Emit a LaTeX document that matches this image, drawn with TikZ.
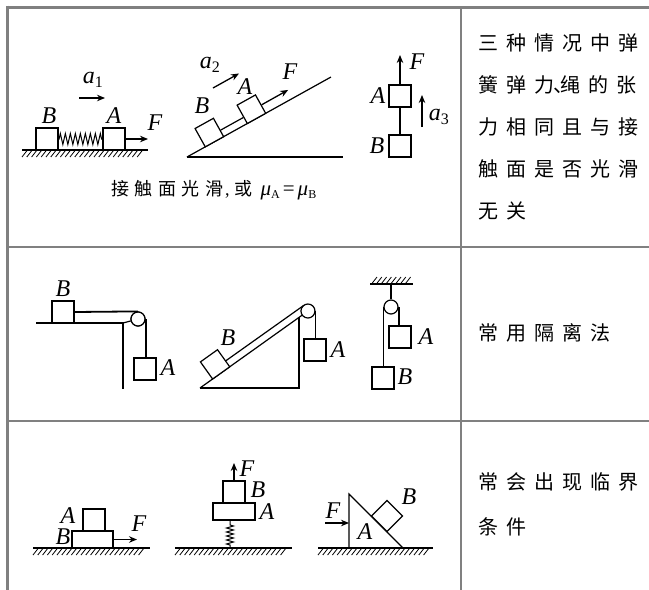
\documentclass[tikz,border=0pt]{standalone}
\usepackage{fontspec}
\setmainfont{Liberation Serif}
\newfontfamily\cjk{Noto Sans CJK SC}
\usetikzlibrary{arrows.meta,decorations.pathmorphing,calc}
\definecolor{rulegray}{RGB}{128,128,128}
\def\spr#1{\ifx#1\relax\else\makebox[28pt][l]{#1}\expandafter\spr\fi}
\def\cspr#1{\ifx#1\relax\else\makebox[23.5pt][l]{#1}\expandafter\cspr\fi}
\newcommand\hatchbelow[3]{%
  \pgfmathtruncatemacro\hn{floor((#2-#1-5)/4.8)}%
  \foreach \hi in {0,...,\hn}{\draw[hatchln] ({#1+4.8*\hi},{#3+7}) -- ({#1+4.8*\hi+5},{#3+0.6});}%
}
\newcommand\hatchabove[3]{%
  \pgfmathtruncatemacro\hn{floor((#2-#1-5)/4.8)}%
  \foreach \hi in {0,...,\hn}{\draw[hatchln] ({#1+4.8*\hi},{#3-0.6}) -- ({#1+4.8*\hi+5},{#3-7});}%
}
\tikzset{
  fig/.style={line width=1.2pt, line join=miter},
  groundln/.style={line width=1.5pt},
  hatchln/.style={line width=0.8pt},
  rope/.style={line width=1.8pt},
  blk/.style={draw, line width=1.2pt, fill=white, minimum width=22pt, minimum height=22pt, inner sep=0},
  pulley/.style={circle, draw, line width=1.2pt, fill=white, minimum size=14pt, inner sep=0},
  arr/.style={line width=1.3pt, -{Stealth[length=8pt,width=6.5pt]}},
  lab/.style={font=\fontsize{24}{24}\selectfont\itshape, inner sep=0},
  ctext/.style={font=\cjk\fontsize{20}{20}\selectfont, inner sep=0, anchor=west},
  tline/.style={draw=rulegray, line width=1.3pt},
  tborder/.style={draw=rulegray, line width=3pt},
  springh/.style={fig, line width=1pt, decorate, decoration={zigzag, segment length=5pt, amplitude=5.5pt, pre length=0.5pt, post length=0.5pt}},
  springv/.style={fig, line width=1pt, decorate, decoration={zigzag, segment length=4pt, amplitude=3.5pt, pre length=3pt, post length=3pt}},
}
\newcommand\sub[1]{\textsubscript{\upshape\fontsize{16}{16}\selectfont #1}}
\begin{document}
\begin{tikzpicture}[x=1pt, y=-1pt]
\useasboundingbox (0,0) rectangle (649,590);
\fill[white] (0,0) rectangle (649,590);
% ---------- table ----------
\draw[tline] (7,247) -- (649,247);
\draw[tline] (7,421) -- (649,421);
\draw[tline] (461,7) -- (461,590);
\draw[tborder] (6,7) -- (649,7);
\draw[tborder] (7.5,5.5) -- (7.5,590);

% ---------- row 1, figure a: spring ----------
\draw[groundln] (22,150) -- (148,150);
\hatchbelow{22}{146}{150}
\node[blk] (B1) at (47,139) {};
\node[blk] (A1) at (114,139) {};
\draw[springh] (B1.east) -- (A1.west);
\coordinate (F1e) at (148,139);
\draw[arr] (A1.east) -- (F1e);
\coordinate (a1s) at (79,98);
\coordinate (a1e) at (105,98);
\draw[arr] (a1s) -- (a1e);
\node[lab] (lB1) at (49,116) {B};
\node[lab] (lA1) at (114,116) {A};
\node[lab] (lF1) at (155,123) {F};
\node[lab] (la1) at (93,80) {a\sub{1}};

% ---------- row 1, figure b: incline ----------
\draw[fig] (187,157) -- (343,157);
\begin{scope}[shift={(187,157)}, rotate=29.05]
  \draw[fig] (0,0) -- (164.7,0);
  \node[blk, minimum width=21pt, minimum height=21pt, rotate=29.05] (B2) at (31.4,-10.5) {};
  \node[blk, minimum width=21pt, minimum height=21pt, rotate=29.05] (A2) at (79.5,-10.5) {};
  \coordinate (F2e) at (121,-9.5);
\end{scope}
\draw[fig] ($(B2.south east)!0.35!(B2.north east)$) -- ($(A2.south west)!0.35!(A2.north west)$);
\draw[arr] ($(A2.south east)!0.45!(A2.north east)$) -- (F2e);
\coordinate (a2s) at (213,88);
\coordinate (a2e) at (239,73.5);
\draw[arr] (a2s) -- (a2e);
\node[lab] (lB2) at (202,106) {B};
\node[lab] (lA2) at (245,87) {A};
\node[lab] (lF2) at (290,72) {F};
\node[lab] (la2) at (210,65) {a\sub{2}};

% ---------- row 1, figure c: vertical ----------
\node[blk] (A3) at (400,96) {};
\node[blk] (B3) at (400,146) {};
\draw[rope] (A3.south) -- (B3.north);
\coordinate (F3e) at (400,55);
\draw[arr] (A3.north) -- (F3e);
\coordinate (a3s) at (422,127);
\coordinate (a3e) at (422,95);
\draw[arr] (a3s) -- (a3e);
\node[lab] (lF3) at (417,62) {F};
\node[lab] (lA3) at (378,96) {A};
\node[lab] (lB3) at (377,146) {B};
\node[lab] (la3) at (439,117) {a\sub{3}};

% caption
\node[inner sep=0, anchor=west] (cap) at (111,190) {{\cjk\fontsize{18}{18}\selectfont\cspr 接触面光\relax 滑}\hspace{2pt}{\fontsize{18}{18}\selectfont ,}\hspace{5pt}{\cjk\fontsize{18}{18}\selectfont 或}\hspace{8pt}{\fontsize{21}{21}\selectfont\textit{μ}\raisebox{-3pt}{\fontsize{12}{12}\selectfont A}\hspace{3pt}=\hspace{3pt}\textit{μ}\raisebox{-3pt}{\fontsize{12}{12}\selectfont B}}};

% row 1 text
\node[ctext] (t11) at (478,43) {\spr 三种情况中弹\relax};
\node[ctext] (t12) at (478,85) {\makebox[28pt][l]{簧}\makebox[28pt][l]{弹}\makebox[26pt][l]{力\hspace{-0.5pt}、}\makebox[28pt][l]{绳}\makebox[28pt][l]{的}张};
\node[ctext] (t13) at (478,127) {\spr 力相同且与接\relax};
\node[ctext] (t14) at (478,169) {\spr 触面是否光滑\relax};
\node[ctext] (t15) at (478,211) {\spr 无关\relax};

% ---------- row 2, figure a: table + pulley ----------
\draw[fig] (36,323) -- (123,323) -- (123,389);
\coordinate (corner4) at (123,323);
\node[pulley] (P4) at (138,319) {};
\draw[fig] (corner4) -- (P4);
\node[pulley] at (P4) {};
\node[blk] (B4) at (63,312) {};
\node[blk] (A4) at (145,369) {};
\draw[rope] (B4.east) -- (P4.north);
\draw[rope] (P4.east) -- (P4.east |- A4.north);
\node[lab] (lB4) at (63,289) {B};
\node[lab] (lA4) at (168,368) {A};

% ---------- row 2, figure b: incline + pulley ----------
\draw[fig] (200,388) -- (299,388) -- (299,317.4);
\begin{scope}[shift={(200,388)}, rotate=35.5]
  \draw[fig] (0,0) -- (132.6,0);
  \node[pulley] (P5) at (132.6,0) {};
  \coordinate (T5) at (132.6,-7);
  \node[blk, minimum width=21pt, minimum height=21pt, rotate=35.5] (B5) at (26,-10.5) {};
\end{scope}
\draw[fig] ($(B5.south east)!0.35!(B5.north east)$) -- (T5);
\node[blk] (A5) at (315,350) {};
\draw[rope] (P5.east) -- (P5.east |- A5.north);
\node[lab] (lB5) at (228,338) {B};
\node[lab] (lA5) at (338,350) {A};

% ---------- row 2, figure c: hanging pulley ----------
\draw[groundln] (370,284) -- (413,284);
\hatchabove{372}{413}{284}
\coordinate (hook6) at (391,284);
\node[pulley] (P6) at (391,307) {};
\draw[rope] (hook6) -- (P6.north);
\node[blk] (A6) at (400,337) {};
\node[blk] (B6) at (383,378) {};
\draw[rope] (P6.east) -- (P6.east |- A6.north);
\draw[rope] (P6.west) -- (P6.west |- B6.north);
\node[lab] (lA6) at (426,337) {A};
\node[lab] (lB6) at (405,377) {B};

\node[ctext] (t2) at (478,333) {\spr 常用隔离法\relax};

% ---------- row 3, figure a ----------
\draw[groundln] (33,548) -- (150,548);
\hatchbelow{33}{147}{548}
\node[blk, minimum width=41pt, minimum height=17pt] (B7) at (92.5,539.5) {};
\node[blk] (A7) at (94,520) {};
\coordinate (F7e) at (137,539.5);
\draw[arr] (B7.east) -- (F7e);
\node[lab] (lA7) at (68,516) {A};
\node[lab] (lB7) at (63,537) {B};
\node[lab] (lF7) at (139,524) {F};

% ---------- row 3, figure b ----------
\draw[groundln] (175,548) -- (292,548);
\hatchbelow{175}{290}{548}
\node[blk, minimum width=42pt, minimum height=17pt] (A8) at (234,511.5) {};
\node[blk] (B8) at (234,492) {};
\coordinate (S8) at (230,548);
\draw[springv] (S8) -- (S8 |- A8.south);
\coordinate (F8e) at (234,463);
\draw[arr] (B8.north) -- (F8e);
\node[lab] (lF8) at (247,469) {F};
\node[lab] (lB8) at (258,490) {B};
\node[lab] (lA8) at (267,512) {A};

% ---------- row 3, figure c ----------
\draw[groundln] (318,548) -- (433,548);
\hatchbelow{318}{431}{548}
\draw[fig] (349,548) -- (349,494) -- (403,548);
\coordinate (F9s) at (325,523);
\coordinate (F9e) at (349,523);
\draw[arr] (F9s) -- (F9e);
\node[blk, rotate=45] (B9) at (387,516) {};
\node[lab] (lF9) at (333,511) {F};
\node[lab] (lA9) at (365,532) {A};
\node[lab] (lB9) at (409,497) {B};

\node[ctext] (t31) at (478,482) {\spr 常会出现临界\relax};
\node[ctext] (t32) at (478,527) {\spr 条件\relax};
\end{tikzpicture}
\end{document}
